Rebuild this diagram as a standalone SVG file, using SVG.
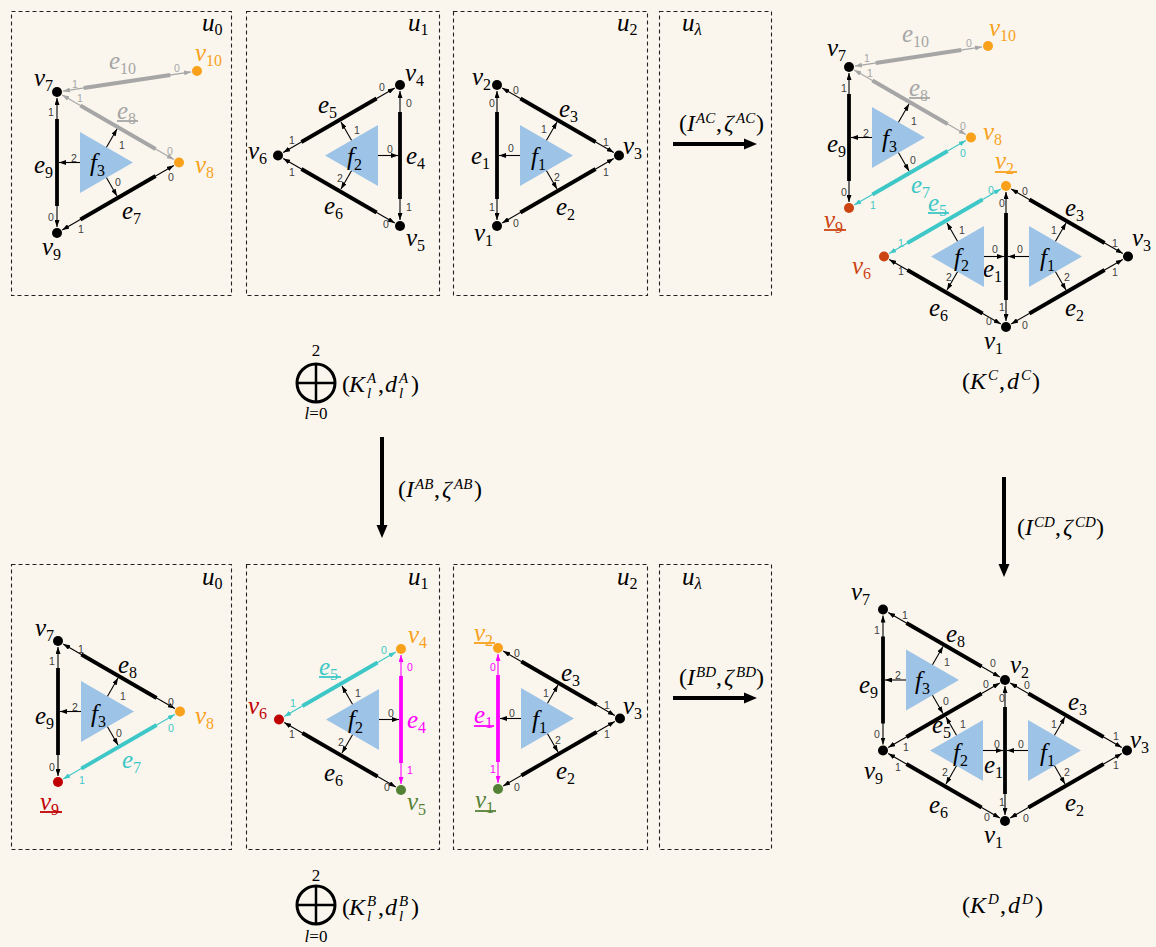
<svg xmlns="http://www.w3.org/2000/svg" width="1156" height="947" viewBox="0 0 1156 947">
<defs>
<style>
.lbl{font-family:"Liberation Serif","DejaVu Serif",serif;font-style:italic;font-size:25px;fill:#000}
.ml{font-size:24px}
.up{font-style:normal}
.sb{font-style:normal;font-size:16px}
.sbi{font-style:italic;font-size:17px}
.sp{font-style:italic;font-size:15px}
.n{font-family:"Liberation Sans",Arial,sans-serif;font-size:10.5px;text-anchor:middle;fill:#404040}
.box{fill:none;stroke:#222;stroke-width:1.1;stroke-dasharray:4 3}
.tn{fill:none;stroke-width:1.1}
.tk{stroke-width:3.8}
.k{stroke:#000}.g{stroke:#A6A6A6}.c{stroke:#3DC7C7}.m{stroke:#FF00FF}
.tn.k{marker-start:url(#mk);marker-end:url(#mk)}
.tn.g{marker-start:url(#mg);marker-end:url(#mg)}
.tn.c{marker-start:url(#mc);marker-end:url(#mc)}
.tn.m{marker-start:url(#mm);marker-end:url(#mm)}
.face{fill:#9DC3E6}
.fa{stroke:#000;stroke-width:1.1;marker-end:url(#mk)}
.gf{fill:#A6A6A6}.cf{fill:#3DC7C7}.mf{fill:#FF00FF}.of{fill:#F9A11B}.rf{fill:#C00000}.rof{fill:#CC4411}.grf{fill:#548235}
.ul{stroke-width:1.8}
.big{stroke:#000;stroke-width:4}
.mid{font-family:"Liberation Serif","DejaVu Serif",serif;font-size:17px;text-anchor:middle}
</style>
<marker id="mk" viewBox="0 0 7 5" refX="7" refY="2.5" markerWidth="7" markerHeight="5" markerUnits="userSpaceOnUse" orient="auto-start-reverse"><path d="M0,0L7,2.5L0,5z" fill="#000"/></marker>
<marker id="mg" viewBox="0 0 7 5" refX="7" refY="2.5" markerWidth="7" markerHeight="5" markerUnits="userSpaceOnUse" orient="auto-start-reverse"><path d="M0,0L7,2.5L0,5z" fill="#A6A6A6"/></marker>
<marker id="mc" viewBox="0 0 7 5" refX="7" refY="2.5" markerWidth="7" markerHeight="5" markerUnits="userSpaceOnUse" orient="auto-start-reverse"><path d="M0,0L7,2.5L0,5z" fill="#3DC7C7"/></marker>
<marker id="mm" viewBox="0 0 7 5" refX="7" refY="2.5" markerWidth="7" markerHeight="5" markerUnits="userSpaceOnUse" orient="auto-start-reverse"><path d="M0,0L7,2.5L0,5z" fill="#FF00FF"/></marker>
</defs>
<rect width="1156" height="947" fill="#FAF6EE"/>

<!-- ===== Top row: A ===== -->
<g id="A0">
<rect class="box" x="11.5" y="11.5" width="220" height="284"/>
<text class="lbl" x="202" y="31">u<tspan class="sb" dy="4">0</tspan></text>
<g id="A0-connectors">
<line class="tn k" x1="57" y1="98" x2="57" y2="227"/><line class="tk k" x1="57" y1="119" x2="57" y2="206"/>
<text class="n" x="51" y="115.5">1</text><text class="n" x="51" y="220.5">0</text>
<text class="lbl" x="34" y="173">e<tspan class="sb" dy="5">9</tspan></text>
<line class="tn g" x1="62.2" y1="95" x2="173.8" y2="159.5"/><line class="tk g" x1="80.4" y1="105.5" x2="155.6" y2="149"/>
<text class="n gf" x="80" y="101.5">1</text><text class="n gf" x="170" y="154.5">0</text>
<text class="lbl gf" x="117" y="119">e<tspan class="sb" dy="5">8</tspan></text><line class="ul g" x1="117" y1="121" x2="138" y2="121"/>
<line class="tn k" x1="62.2" y1="230" x2="173.8" y2="165.5"/><line class="tk k" x1="80.4" y1="219.5" x2="155.6" y2="176"/>
<text class="n" x="81" y="232.5">1</text><text class="n" x="171" y="180.5">0</text>
<text class="lbl" x="122" y="219">e<tspan class="sb" dy="5">7</tspan></text>
<line class="tn g" x1="62.9" y1="91.1" x2="191.1" y2="71.9"/><line class="tk g" x1="83.7" y1="88" x2="170.3" y2="75"/>
<text class="n gf" x="75" y="87.5">1</text><text class="n gf" x="177" y="71.5">0</text>
<text class="lbl gf" x="109" y="69">e<tspan class="sb" dy="5">10</tspan></text>
</g>
<g id="A0-f3">
<polygon class="face" points="80,132 80,193 133,162.5"/>
<text class="lbl" x="90" y="171">f<tspan class="sb" dy="5">3</tspan></text>
<line class="fa" x1="80" y1="162.5" x2="59" y2="162.5"/>
<line class="fa" x1="106.5" y1="147.2" x2="117" y2="129"/>
<line class="fa" x1="106.5" y1="177.8" x2="117" y2="196"/>
<text class="n" x="74" y="161.5">2</text><text class="n" x="122" y="148.5">1</text><text class="n" x="118" y="185.5">0</text>
</g>
<g id="A0-v7"><circle cx="57" cy="92" r="5"/><text class="lbl" x="34" y="86">v<tspan class="sb" dy="5">7</tspan></text></g>
<g id="A0-v9"><circle cx="57" cy="233" r="5"/><text class="lbl" x="42" y="255">v<tspan class="sb" dy="5">9</tspan></text></g>
<g id="A0-v8"><circle class="of" cx="179" cy="162.5" r="5"/><text class="lbl of" x="195" y="173">v<tspan class="sb" dy="5">8</tspan></text></g>
<g id="A0-v10"><circle class="of" cx="197" cy="71" r="5"/><text class="lbl of" x="195" y="61">v<tspan class="sb" dy="5">10</tspan></text></g>
</g>

<g id="A1">
<rect class="box" x="246.5" y="11.5" width="193" height="284"/>
<text class="lbl" x="408" y="31">u<tspan class="sb" dy="4">1</tspan></text>
<g id="A1-connectors">
<line class="tn k" x1="400" y1="91" x2="400" y2="220"/><line class="tk k" x1="400" y1="112" x2="400" y2="199"/>
<text class="n" x="409" y="106.5">0</text><text class="n" x="409" y="210.5">1</text>
<text class="lbl" x="406" y="164">e<tspan class="sb" dy="5">4</tspan></text>
<line class="tn k" x1="283.2" y1="152.5" x2="394.8" y2="88"/><line class="tk k" x1="301.4" y1="142" x2="376.6" y2="98.5"/>
<text class="n" x="292" y="143.5">1</text><text class="n" x="382" y="90.5">0</text>
<text class="lbl" x="318" y="113">e<tspan class="sb" dy="5">5</tspan></text>
<line class="tn k" x1="283.2" y1="158.5" x2="394.8" y2="223"/><line class="tk k" x1="301.4" y1="169" x2="376.6" y2="212.5"/>
<text class="n" x="292" y="175.5">1</text><text class="n" x="386" y="227.5">0</text>
<text class="lbl" x="324" y="214">e<tspan class="sb" dy="5">6</tspan></text>
</g>
<g id="A1-f2">
<polygon class="face" points="378,125 378,186 325,155.5"/>
<text class="lbl" x="347" y="165">f<tspan class="sb" dy="5">2</tspan></text>
<line class="fa" x1="378" y1="155.5" x2="398" y2="155.5"/>
<line class="fa" x1="351.5" y1="140.2" x2="341" y2="122"/>
<line class="fa" x1="351.5" y1="170.8" x2="341" y2="189"/>
<text class="n" x="390" y="152.5">0</text><text class="n" x="357" y="133.5">1</text><text class="n" x="340" y="181.5">2</text>
</g>
<g id="A1-v4"><circle cx="400" cy="85" r="5"/><text class="lbl" x="405" y="81">v<tspan class="sb" dy="5">4</tspan></text></g>
<g id="A1-v5"><circle cx="400" cy="226" r="5"/><text class="lbl" x="406" y="246">v<tspan class="sb" dy="5">5</tspan></text></g>
<g id="A1-v6"><circle cx="278" cy="155.5" r="5"/><text class="lbl" x="248" y="159">v<tspan class="sb" dy="5">6</tspan></text></g>
</g>

<g id="A2">
<rect class="box" x="453.5" y="11.5" width="194" height="284"/>
<text class="lbl" x="617" y="31">u<tspan class="sb" dy="4">2</tspan></text>
<g id="A2-connectors">
<line class="tn k" x1="497" y1="91" x2="497" y2="220"/><line class="tk k" x1="497" y1="112" x2="497" y2="199"/>
<text class="n" x="492" y="106.5">0</text><text class="n" x="492" y="210.5">1</text>
<text class="lbl" x="471" y="164">e<tspan class="sb" dy="5">1</tspan></text>
<line class="tn k" x1="502.2" y1="88" x2="613.8" y2="152.5"/><line class="tk k" x1="520.4" y1="98.5" x2="595.6" y2="142"/>
<text class="n" x="516" y="93.5">0</text><text class="n" x="606" y="145.5">1</text>
<text class="lbl" x="559" y="117">e<tspan class="sb" dy="5">3</tspan></text>
<line class="tn k" x1="502.2" y1="223" x2="613.8" y2="158.5"/><line class="tk k" x1="520.4" y1="212.5" x2="595.6" y2="169"/>
<text class="n" x="516" y="226.5">0</text><text class="n" x="606" y="175.5">1</text>
<text class="lbl" x="556" y="215">e<tspan class="sb" dy="5">2</tspan></text>
</g>
<g id="A2-f1">
<polygon class="face" points="520,125 520,186 573,155.5"/>
<text class="lbl" x="531" y="165">f<tspan class="sb" dy="5">1</tspan></text>
<line class="fa" x1="520" y1="155.5" x2="499" y2="155.5"/>
<line class="fa" x1="546.5" y1="140.2" x2="557" y2="122"/>
<line class="fa" x1="546.5" y1="170.8" x2="557" y2="189"/>
<text class="n" x="511" y="151.5">0</text><text class="n" x="544" y="132.5">1</text><text class="n" x="557" y="180.5">2</text>
</g>
<g id="A2-v2"><circle cx="497" cy="85" r="5"/><text class="lbl" x="472" y="85">v<tspan class="sb" dy="5">2</tspan></text></g>
<g id="A2-v1"><circle cx="497" cy="226" r="5"/><text class="lbl" x="474" y="241">v<tspan class="sb" dy="5">1</tspan></text></g>
<g id="A2-v3"><circle cx="619" cy="155.5" r="5"/><text class="lbl" x="623" y="154">v<tspan class="sb" dy="5">3</tspan></text></g>
</g>

<g id="Alam">
<rect class="box" x="659.5" y="11.5" width="112" height="284"/>
<text class="lbl" x="682" y="31">u<tspan class="sbi" dy="4">λ</tspan></text>
</g>

<!-- ===== K^C ===== -->
<g id="C">
<g id="C-connectors">
<line class="tn g" x1="854.9" y1="66.1" x2="982.1" y2="46.9"/><line class="tk g" x1="875.7" y1="63" x2="961.3" y2="50"/>
<text class="n gf" x="867" y="61.5">1</text><text class="n gf" x="969" y="46.5">0</text>
<text class="lbl gf" x="902" y="42">e<tspan class="sb" dy="5">10</tspan></text>
<line class="tn g" x1="854.2" y1="70" x2="965.8" y2="134.5"/><line class="tk g" x1="872.4" y1="80.5" x2="947.6" y2="124"/>
<text class="n gf" x="870" y="76.5">1</text><text class="n gf" x="963" y="129.5">0</text>
<text class="lbl gf" x="909" y="96">e<tspan class="sb" dy="5">8</tspan></text><line class="ul g" x1="909" y1="98" x2="930" y2="98"/>
<line class="tn k" x1="849" y1="73" x2="849" y2="202"/><line class="tk k" x1="849" y1="94" x2="849" y2="181"/>
<text class="n" x="844" y="91.5">1</text><text class="n" x="844" y="195.5">0</text>
<text class="lbl" x="827" y="152">e<tspan class="sb" dy="5">9</tspan></text>
<line class="tn c" x1="854.2" y1="205" x2="965.8" y2="140.5"/><line class="tk c" x1="872.4" y1="194.5" x2="947.6" y2="151"/>
<text class="n cf" x="963" y="156.5">0</text><text class="n cf" x="873" y="208.5">1</text>
<text class="lbl cf" x="911" y="193">e<tspan class="sb" dy="5">7</tspan></text>
<line class="tn k" x1="1006" y1="192" x2="1006" y2="321"/><line class="tk k" x1="1006" y1="213" x2="1006" y2="300"/>
<text class="n" x="1002" y="206.5">0</text><text class="n" x="1002" y="310.5">1</text>
<text class="lbl" x="983" y="277">e<tspan class="sb" dy="5">1</tspan></text>
<line class="tn k" x1="1011.2" y1="189" x2="1122.8" y2="253.5"/><line class="tk k" x1="1029.4" y1="199.5" x2="1104.6" y2="243"/>
<text class="n" x="1025" y="194.5">0</text><text class="n" x="1115" y="246.5">1</text>
<text class="lbl" x="1065" y="216">e<tspan class="sb" dy="5">3</tspan></text>
<line class="tn k" x1="1011.2" y1="324" x2="1122.8" y2="259.5"/><line class="tk k" x1="1029.4" y1="313.5" x2="1104.6" y2="270"/>
<text class="n" x="1025" y="328.5">0</text><text class="n" x="1115" y="275.5">1</text>
<text class="lbl" x="1065" y="316">e<tspan class="sb" dy="5">2</tspan></text>
<line class="tn c" x1="889.2" y1="253.5" x2="1000.8" y2="189"/><line class="tk c" x1="907.4" y1="243" x2="982.6" y2="199.5"/>
<text class="n cf" x="901" y="246.5">1</text><text class="n cf" x="991" y="193.5">0</text>
<text class="lbl cf" x="928" y="211">e<tspan class="sb" dy="5">5</tspan></text><line class="ul c" x1="928" y1="213" x2="949" y2="213"/>
<line class="tn k" x1="889.2" y1="259.5" x2="1000.8" y2="324"/><line class="tk k" x1="907.4" y1="270" x2="982.6" y2="313.5"/>
<text class="n" x="901" y="274.5">1</text><text class="n" x="989" y="324.5">0</text>
<text class="lbl" x="929" y="316">e<tspan class="sb" dy="5">6</tspan></text>
</g>
<g id="C-f3">
<polygon class="face" points="872,107 872,168 925,137.5"/>
<text class="lbl" x="882" y="147">f<tspan class="sb" dy="5">3</tspan></text>
<line class="fa" x1="872" y1="137.5" x2="851" y2="137.5"/>
<line class="fa" x1="898.5" y1="122.2" x2="909" y2="104"/>
<line class="fa" x1="898.5" y1="152.8" x2="909" y2="171"/>
<text class="n" x="866" y="136.5">2</text><text class="n" x="914" y="124.5">1</text><text class="n" x="913" y="163.5">0</text>
</g>
<g id="C-f2">
<polygon class="face" points="984,226 984,287 931,256.5"/>
<text class="lbl" x="954" y="266">f<tspan class="sb" dy="5">2</tspan></text>
<line class="fa" x1="984" y1="256.5" x2="1004" y2="256.5"/>
<line class="fa" x1="957.5" y1="241.2" x2="947" y2="223"/>
<line class="fa" x1="957.5" y1="271.8" x2="947" y2="290"/>
<text class="n" x="995" y="252.5">0</text><text class="n" x="962" y="233.5">1</text><text class="n" x="949" y="280.5">2</text>
</g>
<g id="C-f1">
<polygon class="face" points="1029,226 1029,287 1082,256.5"/>
<text class="lbl" x="1040" y="266">f<tspan class="sb" dy="5">1</tspan></text>
<line class="fa" x1="1029" y1="256.5" x2="1008" y2="256.5"/>
<line class="fa" x1="1055.5" y1="241.2" x2="1066" y2="223"/>
<line class="fa" x1="1055.5" y1="271.8" x2="1066" y2="290"/>
<text class="n" x="1020" y="252.5">0</text><text class="n" x="1054" y="233.5">1</text><text class="n" x="1067" y="280.5">2</text>
</g>
<g id="C-v7"><circle cx="849" cy="67" r="5"/><text class="lbl" x="827" y="56">v<tspan class="sb" dy="5">7</tspan></text></g>
<g id="C-v10"><circle class="of" cx="988" cy="46" r="5"/><text class="lbl of" x="989" y="36">v<tspan class="sb" dy="5">10</tspan></text></g>
<g id="C-v8"><circle class="of" cx="971" cy="137.5" r="5"/><text class="lbl of" x="983" y="140">v<tspan class="sb" dy="5">8</tspan></text></g>
<g id="C-v9"><circle class="rof" cx="849" cy="208" r="5"/><text class="lbl rof" x="824" y="228">v<tspan class="sb" dy="5">9</tspan></text><line class="ul" stroke="#CC4411" x1="824" y1="230" x2="846" y2="230"/></g>
<g id="C-v2"><circle class="of" cx="1006" cy="186" r="5"/><text class="lbl of" x="995" y="169">v<tspan class="sb" dy="5">2</tspan></text><line class="ul" stroke="#F9A11B" x1="995" y1="172" x2="1017" y2="172"/></g>
<g id="C-v6"><circle class="rof" cx="884" cy="256.5" r="5"/><text class="lbl rof" x="852" y="274">v<tspan class="sb" dy="5">6</tspan></text></g>
<g id="C-v1"><circle cx="1006" cy="327" r="5"/><text class="lbl" x="984" y="349">v<tspan class="sb" dy="5">1</tspan></text></g>
<g id="C-v3"><circle cx="1128" cy="256.5" r="5"/><text class="lbl" x="1132" y="246">v<tspan class="sb" dy="5">3</tspan></text></g>
<text class="lbl ml" id="C-title"><tspan class="up" x="962" y="389">(</tspan><tspan x="970" y="389">K</tspan><tspan class="sp" x="988" y="380">C</tspan><tspan class="up" x="999" y="389">,</tspan><tspan x="1007" y="389">d</tspan><tspan class="sp" x="1021" y="380">C</tspan><tspan class="up" x="1032" y="389">)</tspan></text>
</g>

<!-- ===== Bottom row: B ===== -->
<g id="B0">
<rect class="box" x="11.5" y="564.5" width="220" height="285"/>
<text class="lbl" x="202" y="585">u<tspan class="sb" dy="4">0</tspan></text>
<g id="B0-connectors">
<line class="tn k" x1="58" y1="647" x2="58" y2="776"/><line class="tk k" x1="58" y1="668" x2="58" y2="755"/>
<text class="n" x="52" y="664.5">1</text><text class="n" x="52" y="770.5">0</text>
<text class="lbl" x="35" y="724">e<tspan class="sb" dy="5">9</tspan></text>
<line class="tn k" x1="63.2" y1="644" x2="174.8" y2="708.5"/><line class="tk k" x1="81.4" y1="654.5" x2="156.6" y2="698"/>
<text class="n" x="81" y="652.5">1</text><text class="n" x="171" y="705.5">0</text>
<text class="lbl" x="118" y="673">e<tspan class="sb" dy="5">8</tspan></text>
<line class="tn c" x1="63.2" y1="779" x2="174.8" y2="714.5"/><line class="tk c" x1="81.4" y1="768.5" x2="156.6" y2="725"/>
<text class="n cf" x="82" y="783.5">1</text><text class="n cf" x="171" y="731.5">0</text>
<text class="lbl cf" x="122" y="768">e<tspan class="sb" dy="5">7</tspan></text>
</g>
<g id="B0-f3">
<polygon class="face" points="81,681 81,742 134,711.5"/>
<text class="lbl" x="91" y="722">f<tspan class="sb" dy="5">3</tspan></text>
<line class="fa" x1="81" y1="711.5" x2="60" y2="711.5"/>
<line class="fa" x1="107.5" y1="696.2" x2="118" y2="678"/>
<line class="fa" x1="107.5" y1="726.8" x2="118" y2="745"/>
<text class="n" x="75" y="710.5">2</text><text class="n" x="123" y="699.5">1</text><text class="n" x="119" y="736.5">0</text>
</g>
<g id="B0-v7"><circle cx="58" cy="641" r="5"/><text class="lbl" x="35" y="636">v<tspan class="sb" dy="5">7</tspan></text></g>
<g id="B0-v9"><circle class="rf" cx="58" cy="782" r="5"/><text class="lbl rf" x="40" y="810">v<tspan class="sb" dy="5">9</tspan></text><line class="ul" stroke="#C00000" x1="40" y1="812" x2="62" y2="812"/></g>
<g id="B0-v8"><circle class="of" cx="180" cy="711.5" r="5"/><text class="lbl of" x="195" y="724">v<tspan class="sb" dy="5">8</tspan></text></g>
</g>

<g id="B1">
<rect class="box" x="246.5" y="564.5" width="193" height="285"/>
<text class="lbl" x="408" y="585">u<tspan class="sb" dy="4">1</tspan></text>
<g id="B1-connectors">
<line class="tn m" x1="401" y1="655" x2="401" y2="784"/><line class="tk m" x1="401" y1="676" x2="401" y2="763"/>
<text class="n mf" x="410" y="670.5">0</text><text class="n mf" x="410" y="773.5">1</text>
<text class="lbl mf" x="407" y="728">e<tspan class="sb" dy="5">4</tspan></text>
<line class="tn c" x1="284.2" y1="716.5" x2="395.8" y2="652"/><line class="tk c" x1="302.4" y1="706" x2="377.6" y2="662.5"/>
<text class="n cf" x="384" y="653.5">0</text><text class="n cf" x="293" y="706.5">1</text>
<text class="lbl cf" x="319" y="675">e<tspan class="sb" dy="5">5</tspan></text><line class="ul c" x1="319" y1="677" x2="341" y2="677"/>
<line class="tn k" x1="284.2" y1="722.5" x2="395.8" y2="787"/><line class="tk k" x1="302.4" y1="733" x2="377.6" y2="776.5"/>
<text class="n" x="292" y="737.5">1</text><text class="n" x="387" y="790.5">0</text>
<text class="lbl" x="324" y="781">e<tspan class="sb" dy="5">6</tspan></text>
</g>
<g id="B1-f2">
<polygon class="face" points="379,689 379,750 326,719.5"/>
<text class="lbl" x="348" y="728">f<tspan class="sb" dy="5">2</tspan></text>
<line class="fa" x1="379" y1="719.5" x2="399" y2="719.5"/>
<line class="fa" x1="352.5" y1="704.2" x2="342" y2="686"/>
<line class="fa" x1="352.5" y1="734.8" x2="342" y2="753"/>
<text class="n" x="391" y="716.5">0</text><text class="n" x="358" y="696.5">1</text><text class="n" x="341" y="745.5">2</text>
</g>
<g id="B1-v4"><circle class="of" cx="401" cy="649" r="5"/><text class="lbl of" x="408" y="643">v<tspan class="sb" dy="5">4</tspan></text></g>
<g id="B1-v5"><circle class="grf" cx="401" cy="790" r="5"/><text class="lbl grf" x="407" y="810">v<tspan class="sb" dy="5">5</tspan></text></g>
<g id="B1-v6"><circle class="rf" cx="279" cy="719.5" r="5"/><text class="lbl rf" x="248" y="714">v<tspan class="sb" dy="5">6</tspan></text></g>
</g>

<g id="B2">
<rect class="box" x="453.5" y="564.5" width="194" height="285"/>
<text class="lbl" x="617" y="585">u<tspan class="sb" dy="4">2</tspan></text>
<g id="B2-connectors">
<line class="tn m" x1="498" y1="654" x2="498" y2="783"/><line class="tk m" x1="498" y1="675" x2="498" y2="762"/>
<text class="n mf" x="493" y="670.5">0</text><text class="n mf" x="493" y="772.5">1</text>
<text class="lbl mf" x="474" y="723">e<tspan class="sb" dy="5">1</tspan></text><line class="ul m" x1="474" y1="726" x2="494" y2="726"/>
<line class="tn k" x1="503.2" y1="651" x2="614.8" y2="715.5"/><line class="tk k" x1="521.4" y1="661.5" x2="596.6" y2="705"/>
<text class="n" x="517" y="656.5">0</text><text class="n" x="607" y="708.5">1</text>
<text class="lbl" x="561" y="681">e<tspan class="sb" dy="5">3</tspan></text>
<line class="tn k" x1="503.2" y1="786" x2="614.8" y2="721.5"/><line class="tk k" x1="521.4" y1="775.5" x2="596.6" y2="732"/>
<text class="n" x="517" y="790.5">0</text><text class="n" x="607" y="737.5">1</text>
<text class="lbl" x="556" y="779">e<tspan class="sb" dy="5">2</tspan></text>
</g>
<g id="B2-f1">
<polygon class="face" points="521,688 521,749 574,718.5"/>
<text class="lbl" x="532" y="728">f<tspan class="sb" dy="5">1</tspan></text>
<line class="fa" x1="521" y1="718.5" x2="500" y2="718.5"/>
<line class="fa" x1="547.5" y1="703.2" x2="558" y2="685"/>
<line class="fa" x1="547.5" y1="733.8" x2="558" y2="752"/>
<text class="n" x="512" y="716.5">0</text><text class="n" x="546" y="696.5">1</text><text class="n" x="558" y="743.5">2</text>
</g>
<g id="B2-v2"><circle class="of" cx="498" cy="648" r="5"/><text class="lbl of" x="474" y="641">v<tspan class="sb" dy="5">2</tspan></text><line class="ul" stroke="#F9A11B" x1="474" y1="643" x2="495" y2="643"/></g>
<g id="B2-v1"><circle class="grf" cx="498" cy="789" r="5"/><text class="lbl grf" x="475" y="808">v<tspan class="sb" dy="5">1</tspan></text><line class="ul" stroke="#548235" x1="475" y1="811" x2="496" y2="811"/></g>
<g id="B2-v3"><circle cx="620" cy="718.5" r="5"/><text class="lbl" x="623" y="714">v<tspan class="sb" dy="5">3</tspan></text></g>
</g>

<g id="Blam">
<rect class="box" x="659.5" y="564.5" width="112" height="285"/>
<text class="lbl" x="682" y="585">u<tspan class="sbi" dy="4">λ</tspan></text>
</g>

<!-- ===== K^D ===== -->
<g id="D">
<g id="D-connectors">
<line class="tn k" x1="883" y1="615.5" x2="883" y2="744.5"/><line class="tk k" x1="883" y1="636.5" x2="883" y2="723.5"/>
<text class="n" x="877" y="633.5">1</text><text class="n" x="877" y="737.5">0</text>
<text class="lbl" x="859" y="693">e<tspan class="sb" dy="5">9</tspan></text>
<line class="tn k" x1="888.2" y1="612.5" x2="999.8" y2="677"/><line class="tk k" x1="906.4" y1="623" x2="981.6" y2="666.5"/>
<text class="n" x="905" y="618.5">1</text><text class="n" x="993" y="666.5">0</text>
<text class="lbl" x="946" y="642">e<tspan class="sb" dy="5">8</tspan></text>
<line class="tn k" x1="888.2" y1="747.5" x2="999.8" y2="683"/><line class="tk k" x1="906.4" y1="737" x2="981.6" y2="693.5"/>
<text class="n" x="906" y="750.5">1</text><text class="n" x="986" y="687.5">0</text>
<text class="lbl" x="932" y="733">e<tspan class="sb" dy="5">5</tspan></text>
<line class="tn k" x1="888.2" y1="753.5" x2="999.8" y2="818"/><line class="tk k" x1="906.4" y1="764" x2="981.6" y2="807.5"/>
<text class="n" x="898" y="770.5">1</text><text class="n" x="987" y="820.5">0</text>
<text class="lbl" x="929" y="813">e<tspan class="sb" dy="5">6</tspan></text>
<line class="tn k" x1="1005" y1="686" x2="1005" y2="815"/><line class="tk k" x1="1005" y1="707" x2="1005" y2="794"/>
<text class="n" x="1002" y="701.5">0</text><text class="n" x="1002" y="805.5">1</text>
<text class="lbl" x="984" y="773">e<tspan class="sb" dy="5">1</tspan></text>
<line class="tn k" x1="1010.2" y1="683" x2="1121.8" y2="747.5"/><line class="tk k" x1="1028.4" y1="693.5" x2="1103.6" y2="737"/>
<text class="n" x="1027" y="689">0</text><text class="n" x="1116" y="739.5">1</text>
<text class="lbl" x="1068" y="710">e<tspan class="sb" dy="5">3</tspan></text>
<line class="tn k" x1="1010.2" y1="818" x2="1121.8" y2="753.5"/><line class="tk k" x1="1028.4" y1="807.5" x2="1103.6" y2="764"/>
<text class="n" x="1026" y="821.5">0</text><text class="n" x="1116" y="768.5">1</text>
<text class="lbl" x="1065" y="811">e<tspan class="sb" dy="5">2</tspan></text>
</g>
<g id="D-f3">
<polygon class="face" points="906,649.5 906,710.5 959,680"/>
<text class="lbl" x="915" y="689">f<tspan class="sb" dy="5">3</tspan></text>
<line class="fa" x1="906" y1="680" x2="885" y2="680"/>
<line class="fa" x1="932.5" y1="664.7" x2="943" y2="646.5"/>
<line class="fa" x1="932.5" y1="695.3" x2="943" y2="713.5"/>
<text class="n" x="898" y="678.5">2</text><text class="n" x="947" y="665.5">1</text><text class="n" x="946" y="704.5">0</text>
</g>
<g id="D-f2">
<polygon class="face" points="983,720 983,781 930,750.5"/>
<text class="lbl" x="953" y="761">f<tspan class="sb" dy="5">2</tspan></text>
<line class="fa" x1="983" y1="750.5" x2="1003" y2="750.5"/>
<line class="fa" x1="956.5" y1="735.2" x2="946" y2="717"/>
<line class="fa" x1="956.5" y1="765.8" x2="946" y2="784"/>
<text class="n" x="997" y="747.5">0</text><text class="n" x="963" y="727.5">1</text><text class="n" x="945" y="775.5">2</text>
</g>
<g id="D-f1">
<polygon class="face" points="1028,720 1028,781 1081,750.5"/>
<text class="lbl" x="1040" y="761">f<tspan class="sb" dy="5">1</tspan></text>
<line class="fa" x1="1028" y1="750.5" x2="1007" y2="750.5"/>
<line class="fa" x1="1054.5" y1="735.2" x2="1065" y2="717"/>
<line class="fa" x1="1054.5" y1="765.8" x2="1065" y2="784"/>
<text class="n" x="1021" y="747.5">0</text><text class="n" x="1054" y="727.5">1</text><text class="n" x="1067" y="775.5">2</text>
</g>
<g id="D-v7"><circle cx="883" cy="609.5" r="5"/><text class="lbl" x="851" y="600">v<tspan class="sb" dy="5">7</tspan></text></g>
<g id="D-v9"><circle cx="883" cy="750.5" r="5"/><text class="lbl" x="864" y="779">v<tspan class="sb" dy="5">9</tspan></text></g>
<g id="D-v2"><circle cx="1005" cy="680" r="5"/><text class="lbl" x="1010" y="673">v<tspan class="sb" dy="5">2</tspan></text></g>
<g id="D-v3"><circle cx="1127" cy="750.5" r="5"/><text class="lbl" x="1130" y="748">v<tspan class="sb" dy="5">3</tspan></text></g>
<g id="D-v1"><circle cx="1005" cy="821" r="5"/><text class="lbl" x="984" y="843">v<tspan class="sb" dy="5">1</tspan></text></g>
<text class="lbl ml" id="D-title"><tspan class="up" x="962" y="913">(</tspan><tspan x="970" y="913">K</tspan><tspan class="sp" x="988" y="904">D</tspan><tspan class="up" x="1000" y="913">,</tspan><tspan x="1008" y="913">d</tspan><tspan class="sp" x="1022" y="904">D</tspan><tspan class="up" x="1035" y="913">)</tspan></text>
</g>

<!-- ===== Direct sums and maps ===== -->
<g id="sumA">
<circle cx="316" cy="383" r="19" fill="none" stroke="#000" stroke-width="3"/>
<line x1="297" y1="383" x2="335" y2="383" stroke="#000" stroke-width="2.5"/>
<line x1="316" y1="364" x2="316" y2="402" stroke="#000" stroke-width="2.5"/>
<text class="mid" x="316" y="356">2</text>
<text class="mid" x="316" y="419"><tspan font-style="italic">l</tspan>=0</text>
<text class="lbl ml"><tspan class="up" x="342" y="392">(</tspan><tspan x="349" y="392">K</tspan><tspan class="sp" x="367" y="383">A</tspan><tspan class="sp" x="367" y="398">l</tspan><tspan class="up" x="378" y="392">,</tspan><tspan x="385" y="392">d</tspan><tspan class="sp" x="399" y="383">A</tspan><tspan class="sp" x="399" y="398">l</tspan><tspan class="up" x="411" y="392">)</tspan></text>
</g>
<g id="sumB">
<circle cx="316" cy="905" r="19" fill="none" stroke="#000" stroke-width="3"/>
<line x1="297" y1="905" x2="335" y2="905" stroke="#000" stroke-width="2.5"/>
<line x1="316" y1="886" x2="316" y2="924" stroke="#000" stroke-width="2.5"/>
<text class="mid" x="316" y="881">2</text>
<text class="mid" x="316" y="942"><tspan font-style="italic">l</tspan>=0</text>
<text class="lbl ml"><tspan class="up" x="342" y="915">(</tspan><tspan x="349" y="915">K</tspan><tspan class="sp" x="367" y="906">B</tspan><tspan class="sp" x="367" y="921">l</tspan><tspan class="up" x="378" y="915">,</tspan><tspan x="385" y="915">d</tspan><tspan class="sp" x="399" y="906">B</tspan><tspan class="sp" x="399" y="921">l</tspan><tspan class="up" x="411" y="915">)</tspan></text>
</g>

<g id="maps">
<line class="big" x1="673" y1="144" x2="745" y2="144"/><polygon points="744,138.5 757,144 744,149.5"/>
<text class="lbl ml"><tspan class="up" x="679" y="131">(</tspan><tspan x="687" y="131">I</tspan><tspan class="sp" x="696" y="123">AC</tspan><tspan class="up" x="716" y="131">,</tspan><tspan x="724" y="131">ζ</tspan><tspan class="sp" x="736" y="123">AC</tspan><tspan class="up" x="756" y="131">)</tspan></text>
<line class="big" x1="673" y1="698" x2="745" y2="698"/><polygon points="744,692.5 757,698 744,703.5"/>
<text class="lbl ml"><tspan class="up" x="679" y="685">(</tspan><tspan x="687" y="685">I</tspan><tspan class="sp" x="696" y="677">BD</tspan><tspan class="up" x="716" y="685">,</tspan><tspan x="724" y="685">ζ</tspan><tspan class="sp" x="736" y="677">BD</tspan><tspan class="up" x="756" y="685">)</tspan></text>
<line class="big" x1="382" y1="437" x2="382" y2="526"/><polygon points="376.5,525 382,538 387.5,525"/>
<text class="lbl ml"><tspan class="up" x="398" y="497">(</tspan><tspan x="406" y="497">I</tspan><tspan class="sp" x="415" y="489">AB</tspan><tspan class="up" x="434" y="497">,</tspan><tspan x="442" y="497">ζ</tspan><tspan class="sp" x="454" y="489">AB</tspan><tspan class="up" x="474" y="497">)</tspan></text>
<line class="big" x1="1004" y1="477" x2="1004" y2="565"/><polygon points="998.5,564 1004,577 1009.5,564"/>
<text class="lbl ml"><tspan class="up" x="1017" y="535">(</tspan><tspan x="1025" y="535">I</tspan><tspan class="sp" x="1034" y="527">CD</tspan><tspan class="up" x="1055" y="535">,</tspan><tspan x="1063" y="535">ζ</tspan><tspan class="sp" x="1075" y="527">CD</tspan><tspan class="up" x="1096" y="535">)</tspan></text>
</g>
</svg>
